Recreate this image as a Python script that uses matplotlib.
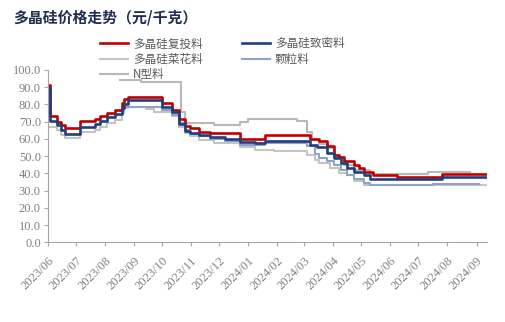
import matplotlib
matplotlib.use("Agg")
import matplotlib.pyplot as plt
import matplotlib.dates as mdates
import pandas as pd

plt.rcParams['font.family'] = ['Noto Sans CJK SC', 'DejaVu Sans']

# change points (date, price), drawn as steps
futou_dates = ['2023-06-01', '2023-06-03', '2023-06-11', '2023-06-15', '2023-06-19', '2023-07-05',
               '2023-07-21', '2023-07-27', '2023-08-03', '2023-08-12', '2023-08-19', '2023-08-22',
               '2023-08-26', '2023-10-01', '2023-10-12', '2023-10-19', '2023-10-26', '2023-10-31',
               '2023-11-10', '2023-11-21', '2023-12-23', '2024-01-19', '2024-03-07', '2024-03-17',
               '2024-03-25', '2024-04-02', '2024-04-07', '2024-04-12', '2024-04-23', '2024-04-28',
               '2024-05-04', '2024-05-13', '2024-06-08', '2024-07-26', '2024-09-11']
futou_vals = [91.3, 73.5, 70.0, 68.0, 66.2, 70.4, 71.6, 73.5, 75.0, 76.8, 80.7, 83.0,
              84.5, 81.0, 76.8, 71.4, 67.5, 66.2, 64.2, 63.3, 60.0, 62.1, 60.0, 58.8,
              56.0, 50.7, 49.4, 47.4, 45.0, 43.0, 41.0, 39.1, 38.1, 39.5, 39.5]

zhimi_dates = ['2023-06-01', '2023-06-03', '2023-06-11', '2023-06-15', '2023-06-19', '2023-07-05',
               '2023-07-21', '2023-07-27', '2023-08-03', '2023-08-12', '2023-08-19', '2023-08-22',
               '2023-08-26', '2023-10-01', '2023-10-12', '2023-10-19', '2023-10-26', '2023-10-31',
               '2023-11-10', '2023-11-21', '2023-12-07', '2023-12-23', '2024-01-08', '2024-01-19',
               '2024-03-07', '2024-03-15', '2024-03-25', '2024-04-02', '2024-04-09', '2024-04-16',
               '2024-04-23', '2024-05-04', '2024-05-10', '2024-07-26', '2024-09-11']
zhimi_vals = [89.5, 70.6, 68.0, 65.3, 63.0, 67.0, 68.6, 70.5, 72.5, 74.5, 78.0, 80.5,
              82.6, 78.7, 75.8, 68.5, 64.6, 63.7, 62.3, 61.0, 59.8, 58.1, 57.5, 58.8,
              56.5, 55.2, 51.7, 48.8, 45.9, 43.0, 41.0, 39.1, 36.6, 37.8, 37.8]

caihua_dates = ['2023-06-01', '2023-06-11', '2023-06-15', '2023-06-19', '2023-07-05', '2023-07-21',
                '2023-07-27', '2023-08-03', '2023-08-12', '2023-08-19', '2023-08-22', '2023-08-26',
                '2023-09-14', '2023-09-23', '2023-10-12', '2023-10-19', '2023-10-26', '2023-10-31',
                '2023-11-10', '2023-11-26', '2023-12-23', '2024-01-08', '2024-01-29', '2024-03-04',
                '2024-03-12', '2024-03-17', '2024-03-28', '2024-04-07', '2024-04-16', '2024-04-23',
                '2024-05-04', '2024-09-11']
caihua_vals = [67.0, 65.0, 62.0, 60.3, 64.2, 65.0, 67.0, 69.0, 71.0, 75.0, 78.0, 78.7,
               77.5, 75.8, 73.0, 67.0, 63.3, 61.7, 59.4, 57.9, 55.2, 53.6, 53.2, 50.7,
               47.8, 46.3, 43.0, 40.5, 39.1, 35.8, 33.3, 33.3]

keli_dates = ['2023-08-17', '2023-08-22', '2023-10-01', '2023-10-12', '2023-10-19', '2023-10-26',
              '2023-10-31', '2023-11-10', '2023-11-21', '2023-12-07', '2023-12-23', '2024-01-19',
              '2024-03-04', '2024-03-12', '2024-03-17', '2024-03-25', '2024-04-02', '2024-04-09',
              '2024-04-16', '2024-04-23', '2024-05-04', '2024-05-10', '2024-07-16', '2024-09-04']
keli_vals = [76.0, 78.7, 77.0, 74.0, 69.0, 65.0, 63.0, 61.5, 60.0, 58.5, 56.5, 57.5,
             56.0, 51.0, 49.0, 47.0, 45.0, 42.0, 39.0, 36.5, 34.5, 33.3, 33.9, 33.9]

ntype_dates = ['2023-08-17', '2023-09-09', '2023-10-21', '2023-10-26', '2023-11-26', '2023-12-23',
               '2024-01-01', '2024-02-22', '2024-03-04', '2024-03-09', '2024-03-17', '2024-03-25',
               '2024-04-02', '2024-04-12', '2024-04-23', '2024-05-10', '2024-07-11', '2024-08-25']
ntype_vals = [94.2, 92.7, 75.8, 69.5, 68.1, 70.0, 71.6, 70.4, 64.2, 59.4, 57.0, 54.6,
              49.7, 44.9, 42.0, 39.7, 41.0, 41.0]

month_ticks = pd.date_range('2023-06-01', '2024-09-01', freq='MS')

fig = plt.figure(figsize=(5.05, 3.22), dpi=100)
ax = fig.add_axes([0.0945, 0.247, 0.8695, 0.536])

ax.plot(pd.to_datetime(caihua_dates), caihua_vals, drawstyle='steps-post', color='#C4C4C4', lw=1.5, label='多晶硅菜花料')
ax.plot(pd.to_datetime(ntype_dates), ntype_vals, drawstyle='steps-post', color='#B8B8B8', lw=1.5, label='N型料')
ax.plot(pd.to_datetime(keli_dates), keli_vals, drawstyle='steps-post', color='#8FA3C4', lw=1.5, label='颗粒料')
ax.plot(pd.to_datetime(futou_dates), futou_vals, drawstyle='steps-post', color='#C00000', lw=1.9, label='多晶硅复投料')
ax.plot(pd.to_datetime(zhimi_dates), zhimi_vals, drawstyle='steps-post', color='#1F3F80', lw=1.9, label='多晶硅致密料')

ax.set_ylim(0, 100)
ax.set_xlim(pd.Timestamp('2023-06-01'), pd.Timestamp('2024-09-12'))
ax.set_yticks(range(0, 101, 10))
ax.set_yticklabels([f'{v:.1f}' for v in range(0, 101, 10)])
ax.set_xticks(month_ticks)
ax.xaxis.set_major_formatter(mdates.DateFormatter('%Y/%m'))

for s in ['top', 'right']:
    ax.spines[s].set_visible(False)
for s in ['left', 'bottom']:
    ax.spines[s].set_color('#A6A6A6')
    ax.spines[s].set_linewidth(0.8)
ax.tick_params(axis='both', colors='#A6A6A6', length=3, width=0.8, pad=2,
               labelcolor='#808080', labelsize=9)
ax.tick_params(axis='x', pad=6)
for lbl in ax.get_yticklabels() + ax.get_xticklabels():
    lbl.set_family('Liberation Serif')
for lbl in ax.get_xticklabels():
    lbl.set_rotation(45)
    lbl.set_ha('right')
    lbl.set_rotation_mode('anchor')

fig.text(0.026, 0.945, '多晶硅价格走势（元/千克）', fontsize=10.7, fontweight='bold',
         color='#1F2D50', va='center', ha='left')

h, l = ax.get_legend_handles_labels()
order = ['多晶硅复投料', '多晶硅菜花料', 'N型料', '多晶硅致密料', '颗粒料']
hh = [h[l.index(o)] for o in order]
leg = fig.legend(hh, order, loc='upper left', bbox_to_anchor=(100 / 505, 1 - 37.5 / 322),
                 ncol=2, frameon=False, fontsize=8.4, handlelength=2.4, handletextpad=0.4,
                 columnspacing=3.4, labelspacing=0.2, borderpad=0, borderaxespad=0)
for t in leg.get_texts():
    t.set_color('#595959')

fig.savefig('out.png', dpi=100)
